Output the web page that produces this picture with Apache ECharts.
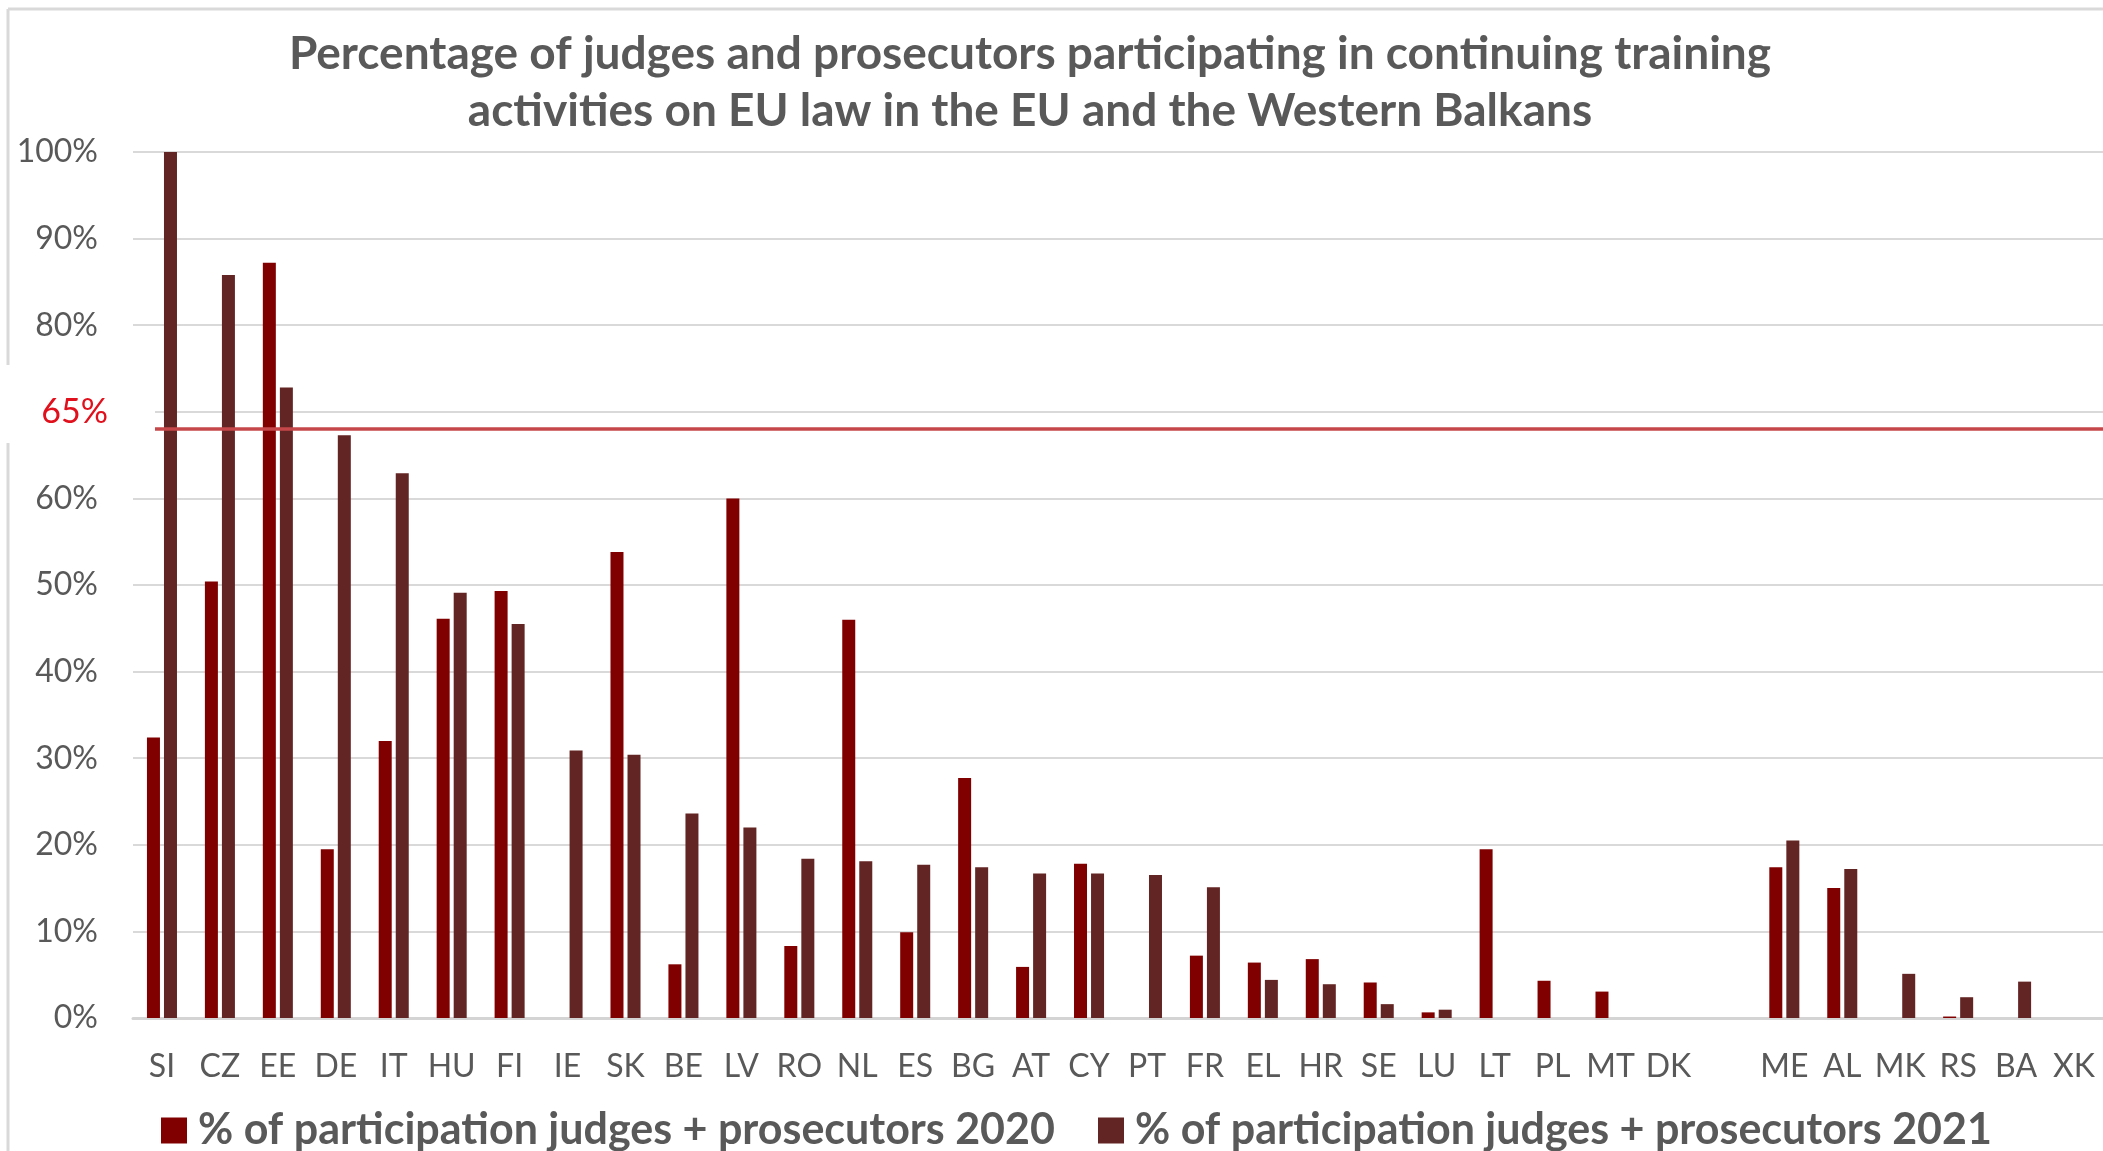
<!DOCTYPE html>
<html>
<head>
<meta charset="utf-8">
<script src="https://cdn.jsdelivr.net/npm/echarts@6/dist/echarts.min.js"></script>
<style>
  html, body { margin: 0; padding: 0; background: #fff; }
  #trainingChart { width: 2103px; height: 1151px; }
</style>
</head>
<body>
<div id="trainingChart"></div>
<script>
// countries, the empty slot separates EU from Western Balkans
var countries = ['SI', 'CZ', 'EE', 'DE', 'IT', 'HU', 'FI', 'IE', 'SK', 'BE', 'LV', 'RO', 'NL', 'ES', 'BG', 'AT',
  'CY', 'PT', 'FR', 'EL', 'HR', 'SE', 'LU', 'LT', 'PL', 'MT', 'DK', '', 'ME', 'AL', 'MK', 'RS', 'BA', 'XK'];

var share2020 = [32.4, 50.4, 87.2, 19.5, 32.0, 46.1, 49.3, null, 53.8, 6.2, 60.0, 8.3, 46.0, 9.9, 27.7, 5.9,
  17.8, null, 7.2, 6.4, 6.8, 4.1, 0.65, 19.5, 4.3, 3.05, null, null, 17.4, 15.0, null, 0.17, null, null];

var share2021 = [100, 85.8, 72.8, 67.3, 62.9, 49.1, 45.5, 30.9, 30.4, 23.6, 22.0, 18.4, 18.1, 17.7, 17.4, 16.7,
  16.7, 16.5, 15.1, 4.4, 3.9, 1.6, 0.96, null, null, null, null, null, 20.5, 17.2, 5.1, 2.4, 4.2, null];

var yTicks = [0, 10, 20, 30, 40, 50, 60, 70, 80, 90, 100];
var targetLine = 68;   // drawn slightly above the 65% mark in the source
var targetLabel = '65%';

var seriesNames = ['% of participation judges + prosecutors 2020', '% of participation judges + prosecutors 2021'];

var chart = echarts.init(document.getElementById('trainingChart'));
var grey = '#595959';
var font = 'Lato, "Open Sans", sans-serif';

var legendText = { fontFamily: font, fontSize: 43, fontWeight: 'bold', color: grey, padding: [0, 0, 0, 6] };

var option = {
  backgroundColor: '#fff',
  animation: false,
  title: {
    text: 'Percentage of judges and prosecutors participating in continuing training\nactivities on EU law in the EU and the Western Balkans',
    left: 1030,
    top: 26,
    padding: 0,
    textAlign: 'center',
    textStyle: {
      fontFamily: font,
      fontSize: 46,
      fontWeight: 'bold',
      color: grey,
      lineHeight: 57
    }
  },
  legend: [
    {
      data: [seriesNames[0]],
      left: 161, top: 1109, padding: 0,
      icon: 'rect', itemWidth: 26, itemHeight: 26,
      textStyle: legendText
    },
    {
      data: [seriesNames[1]],
      left: 1098, top: 1109, padding: 0,
      icon: 'rect', itemWidth: 26, itemHeight: 26,
      textStyle: legendText
    }
  ],
  grid: { left: 133, top: 152, width: 1973, bottom: 133 },
  xAxis: {
    type: 'category',
    data: countries,
    axisTick: { show: false },
    axisLine: { lineStyle: { color: '#d4d4d4', width: 3 } },
    axisLabel: { interval: 0, margin: 33, fontFamily: font, fontSize: 32, color: grey }
  },
  yAxis: {
    type: 'value',
    min: yTicks[0],
    max: yTicks[yTicks.length - 1],
    interval: 10,
    axisLine: { show: false },
    axisTick: { show: false },
    splitLine: { lineStyle: { color: '#d9d9d9', width: 2 } },
    axisLabel: {
      margin: 35, fontFamily: font, fontSize: 32, color: grey,
      formatter: function (v) { return v === 70 ? '' : v + '%'; }
    }
  },
  series: [
    {
      name: seriesNames[0],
      type: 'bar',
      data: share2020,
      barWidth: 13,
      barGap: '31%',
      itemStyle: { color: '#800000' },
      markLine: {
        silent: true,
        symbol: 'none',
        label: { show: false },
        lineStyle: { color: '#c6474a', width: 3.5, type: 'solid' },
        data: [{ yAxis: targetLine }]
      }
    },
    {
      name: seriesNames[1],
      type: 'bar',
      data: share2021,
      barWidth: 13,
      itemStyle: { color: '#632523' }
    }
  ],
  graphic: [
    // outer frame of the original chart box
    { type: 'line', z: 100, shape: { x1: 8, y1: 9, x2: 2103, y2: 9 }, style: { stroke: '#d9d9d9', lineWidth: 3 } },
    { type: 'line', z: 100, shape: { x1: 8, y1: 9, x2: 8, y2: 365 }, style: { stroke: '#d9d9d9', lineWidth: 3 } },
    { type: 'line', z: 100, shape: { x1: 8, y1: 443, x2: 8, y2: 1151 }, style: { stroke: '#d9d9d9', lineWidth: 3 } },
    // white patch pasted over the 70% label
    { type: 'rect', z: 100, shape: { x: 0, y: 365, width: 155, height: 78 }, style: { fill: '#fff' } },
    {
      type: 'text', z: 101, x: 108, y: 412,
      style: { text: targetLabel, fill: '#e0101c', font: '34px ' + font, align: 'right', verticalAlign: 'middle' }
    }
  ]
};

chart.setOption(option);
</script>
</body>
</html>
